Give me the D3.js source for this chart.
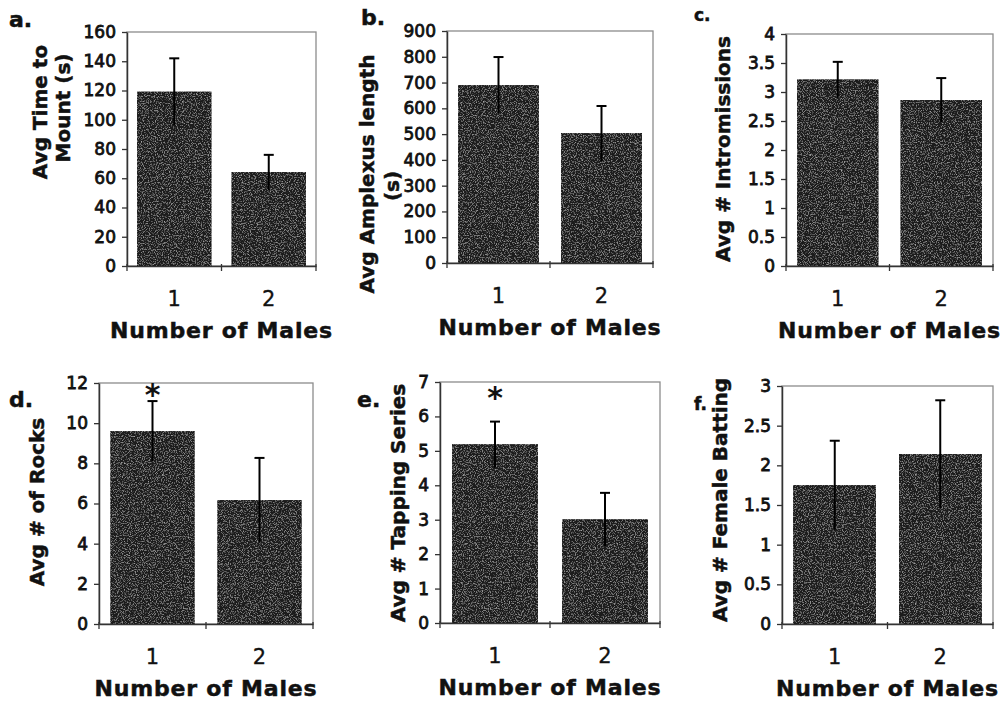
<!DOCTYPE html>
<html>
<head>
<meta charset="utf-8">
<script src="https://cdn.jsdelivr.net/npm/d3@7"></script>
<style>
  html, body { margin: 0; padding: 0; background: #fff; }
  svg { display: block; }
</style>
</head>
<body>
<svg id="chart" width="1007" height="704"></svg>
<script>
// ---------------- data ----------------
const categories = ["1", "2"];

const timeToMount = [119, 64];
const timeToMountErr = [23, 12];
const timeToMountTicks = [0, 20, 40, 60, 80, 100, 120, 140, 160];

const amplexusLength = [690, 502];
const amplexusLengthErr = [109, 107];
const amplexusLengthTicks = [0, 100, 200, 300, 400, 500, 600, 700, 800, 900];

const intromissions = [3.21, 2.86];
const intromissionsErr = [0.31, 0.38];
const intromissionsTicks = [0, 0.5, 1, 1.5, 2, 2.5, 3, 3.5, 4];

const rocks = [9.6, 6.17];
const rocksErr = [1.5, 2.1];
const rocksTicks = [0, 2, 4, 6, 8, 10, 12];
const rocksSignificance = ["*", ""];
const rocksStarLevel = 11.75;

const tappingSeries = [5.18, 3.0];
const tappingSeriesErr = [0.67, 0.78];
const tappingSeriesTicks = [0, 1, 2, 3, 4, 5, 6, 7];
const tappingSignificance = ["*", ""];
const tappingStarLevel = 6.75;

const femaleBatting = [1.75, 2.14];
const femaleBattingErr = [0.56, 0.68];
const femaleBattingTicks = [0, 0.5, 1, 1.5, 2, 2.5, 3];

const xAxisTitle = "Number of Males";

// ---------------- drawing ----------------
const svg = d3.select("#chart");
const FONT = "'DejaVu Sans', Verdana, sans-serif";

const defs = svg.append("defs");
const filt = defs.append("filter").attr("id", "grain")
  .attr("x", 0).attr("y", 0).attr("width", 1).attr("height", 1);
filt.append("feTurbulence").attr("type", "fractalNoise")
  .attr("baseFrequency", 0.85).attr("numOctaves", 2).attr("seed", 7).attr("result", "noise");
filt.append("feColorMatrix").attr("in", "noise").attr("type", "matrix")
  .attr("values", "0 0 0 0 1  0 0 0 0 1  0 0 0 0 1  1.0 0 0 0 -0.5")
  .attr("result", "speck");
filt.append("feComposite").attr("in", "speck").attr("in2", "SourceGraphic")
  .attr("operator", "in").attr("result", "clipped");
const merge = filt.append("feMerge");
merge.append("feMergeNode").attr("in", "SourceGraphic");
merge.append("feMergeNode").attr("in", "clipped");

const fmt = d => String(d);

function drawPanel(cfg) {
  const g = svg.append("g");
  const x = d3.scaleBand().domain(categories)
    .range([cfg.left, cfg.right]).paddingInner(0.22).paddingOuter(0.11);
  const y = d3.scaleLinear().domain([0, cfg.max]).range([cfg.bottom, cfg.top]);

  // plot area
  g.append("rect")
    .attr("x", cfg.left).attr("y", cfg.top)
    .attr("width", cfg.right - cfg.left).attr("height", cfg.bottom - cfg.top)
    .attr("fill", "#fff").attr("stroke", "#8c8c8c").attr("stroke-width", 1.3);

  // bars
  g.selectAll("rect.bar").data(categories).join("rect")
    .attr("class", "bar")
    .attr("x", d => x(d)).attr("width", x.bandwidth())
    .attr("y", (d, i) => y(cfg.values[i]))
    .attr("height", (d, i) => y(0) - y(cfg.values[i]))
    .attr("fill", "#1c1c1c")
    .attr("stroke", "#111").attr("stroke-width", 0.8)
    .attr("filter", "url(#grain)");

  // error bars
  const eb = g.selectAll("g.err").data(categories).join("g").attr("class", "err");
  eb.append("line")
    .attr("x1", d => x(d) + x.bandwidth() / 2).attr("x2", d => x(d) + x.bandwidth() / 2)
    .attr("y1", (d, i) => y(cfg.values[i] - cfg.errors[i]))
    .attr("y2", (d, i) => y(cfg.values[i] + cfg.errors[i]))
    .attr("stroke", "#000").attr("stroke-width", 2);
  eb.append("line")
    .attr("x1", d => x(d) + x.bandwidth() / 2 - 5).attr("x2", d => x(d) + x.bandwidth() / 2 + 5)
    .attr("y1", (d, i) => y(cfg.values[i] + cfg.errors[i]))
    .attr("y2", (d, i) => y(cfg.values[i] + cfg.errors[i]))
    .attr("stroke", "#000").attr("stroke-width", 2);

  // significance stars
  if (cfg.sig) {
    g.selectAll("text.star").data(categories).join("text")
      .attr("class", "star")
      .attr("x", d => x(d) + x.bandwidth() / 2)
      .attr("y", y(cfg.starLevel))
      .attr("dy", "0.58em")
      .attr("text-anchor", "middle")
      .attr("font-family", FONT).attr("font-weight", "bold").attr("font-size", 30)
      .attr("fill", "#111")
      .text((d, i) => cfg.sig[i]);
  }

  // y axis
  const ya = g.append("g").attr("transform", `translate(${cfg.left},0)`)
    .call(d3.axisLeft(y).tickValues(cfg.ticks).tickSize(5).tickSizeOuter(0)
      .tickPadding(6).tickFormat(fmt));
  ya.select(".domain").attr("stroke", "#333").attr("stroke-width", 1.5);
  ya.selectAll(".tick line").attr("stroke", "#333").attr("stroke-width", 1.3);
  ya.selectAll(".tick text")
    .attr("font-family", FONT).attr("font-size", 17).attr("fill", "#111")
    .attr("stroke", "#111").attr("stroke-width", 0.8);

  // x axis
  const xa = g.append("g").attr("transform", `translate(0,${cfg.bottom})`)
    .call(d3.axisBottom(x).tickSize(0).tickSizeOuter(0).tickPadding(25));
  xa.select(".domain").attr("stroke", "#333").attr("stroke-width", 1.5);
  xa.selectAll(".tick text")
    .attr("font-family", FONT).attr("font-size", 21).attr("fill", "#111")
    .attr("stroke", "#111").attr("stroke-width", 0.3);
  const bounds = d3.range(categories.length + 1).map(i => cfg.left + i * x.step());
  xa.selectAll("line.bt").data(bounds).join("line").attr("class", "bt")
    .attr("x1", d => d).attr("x2", d => d).attr("y1", -2).attr("y2", 5)
    .attr("stroke", "#333").attr("stroke-width", 1.3);

  // x axis title
  g.append("text")
    .attr("x", (cfg.left + cfg.right) / 2).attr("y", cfg.bottom + 72)
    .attr("text-anchor", "middle")
    .attr("font-family", FONT).attr("font-weight", "bold").attr("font-size", 22)
    .attr("letter-spacing", "0.8px").attr("fill", "#111")
    .attr("stroke", "#111").attr("stroke-width", 0.5)
    .text(xAxisTitle);

  // y axis title (possibly multi-line)
  cfg.title.forEach((line, i) => {
    g.append("text")
      .attr("transform", `translate(${cfg.titleX[i]},${cfg.titleY[i]}) rotate(-90)`)
      .attr("dy", "0.36em")
      .attr("text-anchor", "middle")
      .attr("font-family", FONT).attr("font-weight", "bold").attr("font-size", 20)
      .attr("fill", "#111")
      .attr("stroke", "#111").attr("stroke-width", 0.5)
      .text(line);
  });

  // panel letter
  g.append("text")
    .attr("x", cfg.labelX).attr("y", cfg.labelY)
    .attr("font-family", FONT).attr("font-weight", "bold").attr("font-size", cfg.labelSize || 22)
    .attr("fill", "#111")
    .attr("stroke", "#111").attr("stroke-width", 0.5)
    .text(cfg.label);
}

drawPanel({ left: 127, right: 316, top: 32, bottom: 266, max: 160,
  ticks: timeToMountTicks, values: timeToMount, errors: timeToMountErr,
  title: ["Avg Time to", "Mount (s)"], titleX: [40, 63], titleY: [112, 108],
  label: "a.", labelX: 9, labelY: 27 });

drawPanel({ left: 447, right: 653, top: 31, bottom: 263, max: 900,
  ticks: amplexusLengthTicks, values: amplexusLength, errors: amplexusLengthErr,
  title: ["Avg Amplexus length", "(s)"], titleX: [367, 392], titleY: [174, 186],
  label: "b.", labelX: 361, labelY: 25 });

drawPanel({ left: 786, right: 993, top: 34, bottom: 266, max: 4,
  ticks: intromissionsTicks, values: intromissions, errors: intromissionsErr,
  title: ["Avg # Intromissions"], titleX: [723], titleY: [149],
  label: "c.", labelX: 694, labelY: 21, labelSize: 17 });

drawPanel({ left: 99, right: 313, top: 383, bottom: 624, max: 12,
  ticks: rocksTicks, values: rocks, errors: rocksErr,
  sig: rocksSignificance, starLevel: rocksStarLevel,
  title: ["Avg # of Rocks"], titleX: [37], titleY: [502],
  label: "d.", labelX: 9, labelY: 407 });

drawPanel({ left: 440, right: 660, top: 382, bottom: 623, max: 7,
  ticks: tappingSeriesTicks, values: tappingSeries, errors: tappingSeriesErr,
  sig: tappingSignificance, starLevel: tappingStarLevel,
  title: ["Avg # Tapping Series"], titleX: [398], titleY: [503],
  label: "e.", labelX: 357, labelY: 407 });

drawPanel({ left: 782, right: 993, top: 386, bottom: 624, max: 3,
  ticks: femaleBattingTicks, values: femaleBatting, errors: femaleBattingErr,
  title: ["Avg # Female Batting"], titleX: [720], titleY: [500],
  label: "f.", labelX: 694, labelY: 410, labelSize: 17 });
</script>
</body>
</html>
